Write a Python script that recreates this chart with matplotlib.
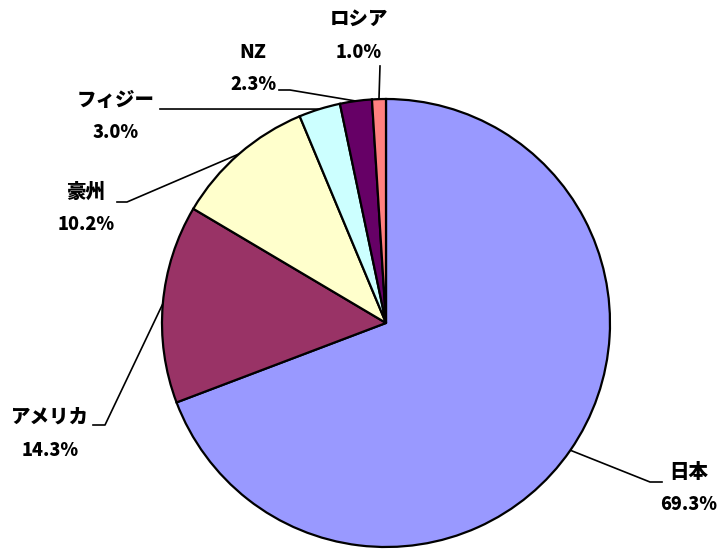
import numpy as np
import matplotlib.pyplot as plt

plt.rcParams['font.family'] = ['Noto Sans CJK JP', 'DejaVu Sans']

# datos
paises = ['日本', 'アメリカ', '豪州', 'フィジー', 'NZ', 'ロシア']
valores = [69.3, 14.3, 10.2, 3.0, 2.3, 1.0]
colores = ['#9999FF', '#993366', '#FFFFCC', '#CCFFFF', '#660066', '#FF8080']

W, H = 718, 549
cx, cy, r = 386, 323, 224  # centro y radio en pixeles (y hacia abajo)

# posicion de etiquetas (x centro, y nombre, y porcentaje) y codo de la linea
etiquetas = {
    '日本':   (689, 473, 505, [(662, 482), (650, 482)]),
    'アメリカ': (50, 417, 450, [(93, 425), (105, 425)]),
    '豪州':   (86, 192, 225, [(117, 202), (127, 202)]),
    'フィジー': (116, 100, 133, [(160, 109)]),
    'NZ':     (253, 52, 84, [(279, 90), (290, 90)]),
    'ロシア':  (359, 19, 53, [(380, 66)]),
}


def P(px, py):
    return px, H - py


fig = plt.figure(figsize=(W / 100, H / 100), dpi=100)
ax = fig.add_axes([0, 0, 1, 1])

wedges, _ = ax.pie(valores, colors=colores, startangle=90, counterclock=False,
                   center=P(cx, cy), radius=r, normalize=True,
                   wedgeprops=dict(edgecolor='black', linewidth=1.6))
ax.set_xlim(0, W)
ax.set_ylim(0, H)
ax.set_aspect('equal')
ax.axis('off')

for w, nombre, v in zip(wedges, paises, valores):
    ang = np.deg2rad((w.theta1 + w.theta2) / 2)
    ax_, ay_ = cx + r * np.cos(ang), cy - r * np.sin(ang)
    tx, ny, py_, codo = etiquetas[nombre]
    pts = codo + [(ax_, ay_)]
    xs = [p[0] for p in pts]
    ys = [H - p[1] for p in pts]
    ax.plot(xs, ys, color='black', lw=1.2, zorder=0)
    ax.text(*P(tx, ny), nombre, ha='center', va='center', fontsize=14, fontweight='black')
    ax.text(*P(tx, py_), f'{v:.1f}%', ha='center', va='center', fontsize=13, fontweight='black')

plt.savefig('out.png', dpi=100)
